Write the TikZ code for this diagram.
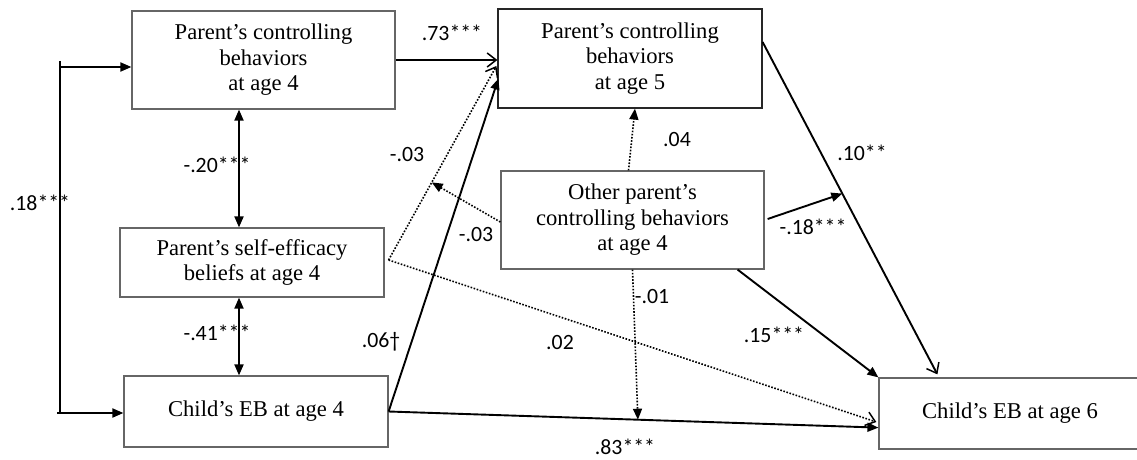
\documentclass[tikz,border=0pt]{standalone}
\usepackage{fontspec}
\setmainfont{Liberation Serif}
\newfontfamily\labfont{Carlito}
\usetikzlibrary{arrows.meta,calc}
\begin{document}
\begin{tikzpicture}[x=1pt,y=-1pt,
  box/.style={draw=black!60,line width=1.2pt,inner sep=0pt,align=center,
    font=\fontsize{22.6}{25.5}\selectfont},
  lab/.style={font=\labfont\fontsize{21.8}{24}\selectfont,inner sep=0pt},
  conn/.style={line width=1.9pt,black},
  dotl/.style={line width=1.6pt,dash pattern=on 1.6pt off 1.6pt},
  tri/.style={-{Triangle[length=11pt,width=9pt]}},
  tritri/.style={{Triangle[length=11pt,width=9pt]}-{Triangle[length=11pt,width=9pt]}},
  barb/.style={-{Straight Barb[length=9pt,width=14pt,line width=1.5pt]}}]
\useasboundingbox[fill=white] (0,0) rectangle (1137,460);

% boxes
\node[box,minimum width=263pt,minimum height=98pt] (A) at (263.5,60)
  {Parent’s controlling\\behaviors\\at age 4};
\node[box,draw=black!85,minimum width=264pt,minimum height=99pt] (B) at (630,58.5)
  {Parent’s controlling\\behaviors\\at age 5};
\node[box,minimum width=263pt,minimum height=98pt] (C) at (632.5,220)
  {Other parent’s\\controlling behaviors\\at age 4};
\node[box,minimum width=264pt,minimum height=69pt] (D) at (252,262.5)
  {Parent’s self-efficacy\\beliefs at age 4};
\node[box,minimum width=264pt,minimum height=71pt] (E) at (256,411.5)
  {Child’s EB at age 4};
\node[box,minimum width=262pt,minimum height=71pt] (F) at (1010,413.5)
  {Child’s EB at age 6};

% left bracket
\coordinate (b1) at (60,61);
\coordinate (b2) at (61,67);
\coordinate (b3) at (57,413);
\coordinate (b4) at (60,413);
\draw[conn,line width=2.2pt] (b1) -- (b4);
\draw[conn,tri] (b2) -- (b2 -| A.west);
\draw[conn,tri] (b3) -- (b3 -| E.west);
\node[lab] (l18) at (40,203) {.18***};

% correlations
\coordinate (vx) at (239,0);
\draw[conn,tritri] (A.south -| vx) -- (D.north -| vx);
\draw[conn,tritri] (D.south -| vx) -- (E.north -| vx);
\node[lab] (l20) at (217,165) {-.20***};
\node[lab] (l41) at (217,333) {-.41***};

% A -> B
\draw[conn,barb] (A.east) -- (B.west |- A.east);
\node[lab] (l73) at (452,33) {.73***};

% E -> B
\coordinate (eS) at (E.east);
\draw[conn,tri] (eS) -- ($(B.south west)+(1,-30)$);
\node[lab] (l06) at (381,342) {.06\textdagger};

% E -> F
\coordinate (fE) at ($(F.south west)+(0,-22)$);
\draw[conn,tri] (eS) -- (fE);
\node[lab] (l83) at (625,447) {.83***};

% D -> B dotted
\coordinate (dS) at ($(D.east)+(4,-2.5)$);
\coordinate (dB) at ($(B.west)+(-1,7.5)$);
\draw[dotl,barb] (dS) -- (dB);
\node[lab] (l03a) at (407,155) {-.03};

% C -> D-B path
\draw[dotl,tri] ($(C.west)+(0,2)$) -- ($(dS)!0.4!(dB)$);
\node[lab] (l03b) at (476,235) {-.03};

% D -> F dotted
\draw[dotl,barb] (dS) -- ($(F.west)+(-2,8.5)$);
\node[lab] (l02) at (560,343) {.02};

% C -> B dotted
\draw[dotl,tri] ($(C.north)+(-4,0)$) -- ($(B.south)+(5,0)$);
\node[lab] (l04) at (677,140) {.04};

% C -> E-F path
\draw[dotl,tri] (C.south) -- ($(eS)!0.509!(fE)$);
\node[lab] (l01) at (652,297) {-.01};

% C -> F
\draw[conn,tri] ($(C.south east)+(-27,0)$) -- (F.north west);
\node[lab] (l15) at (774,335) {.15***};

% B -> F
\coordinate (bS) at ($(B.east)+(0,-16.5)$);
\coordinate (bE) at ($(F.north west)+(59,-3)$);
\draw[conn,barb] (bS) -- (bE);
\node[lab] (l10) at (862,153) {.10**};

% C -> B-F path
\draw[conn,tri] ($(C.east)+(3,-1)$) -- ($(bS)!0.456!(bE)$);
\node[lab] (l18b) at (813,227) {-.18***};
\end{tikzpicture}
\end{document}
